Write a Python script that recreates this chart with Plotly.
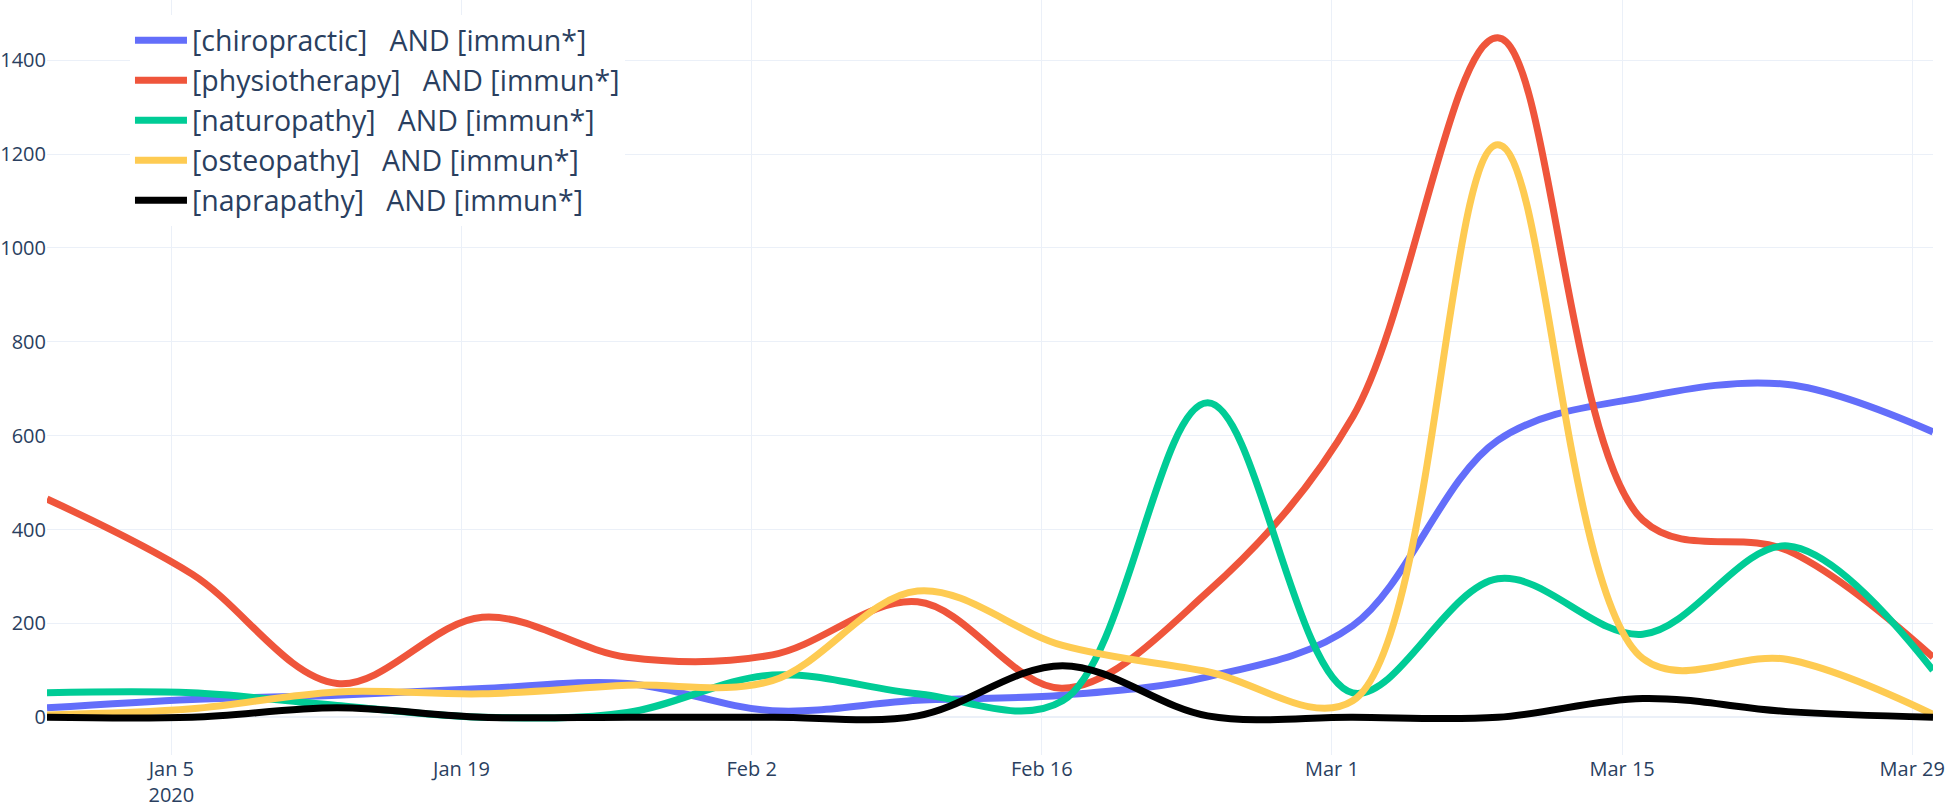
import plotly.graph_objects as go

weeks = ["2019-12-30", "2020-01-06", "2020-01-13", "2020-01-20", "2020-01-27",
         "2020-02-03", "2020-02-10", "2020-02-17", "2020-02-24", "2020-03-02",
         "2020-03-09", "2020-03-16", "2020-03-23", "2020-03-30"]

chiropractic = [20, 38, 47, 61, 72, 14, 36, 47, 86, 195, 590, 682, 709, 608]
physiotherapy = [465, 305, 72, 213, 128, 133, 246, 62, 267, 640, 1448, 420, 355, 128]
naturopathy = [52, 52, 25, 0, 10, 90, 50, 35, 670, 52, 295, 177, 365, 100]
osteopathy = [5, 18, 54, 50, 68, 78, 269, 153, 97, 35, 1220, 125, 123, 6]
naprapathy = [0, 0, 20, 0, 0, 0, 3, 110, 3, 0, 0, 40, 12, 0]

series = [
    ("[chiropractic]   AND [immun*]", chiropractic, "#636efa"),
    ("[physiotherapy]   AND [immun*]", physiotherapy, "#EF553B"),
    ("[naturopathy]   AND [immun*]", naturopathy, "#00cc96"),
    ("[osteopathy]   AND [immun*]", osteopathy, "#FECB52"),
    ("[naprapathy]   AND [immun*]", naprapathy, "black"),
]

fig = go.Figure()
for name, values, color in series:
    fig.add_trace(go.Scatter(
        x=weeks, y=values, name=name, mode="lines",
        line=dict(shape="spline", color=color, width=7),
    ))

fig.update_layout(
    template="plotly_white",
    width=1946, height=807,
    margin=dict(l=47, r=13, t=0, b=52),
    font=dict(family="Open Sans", size=20, color="#2a3f5f"),
    legend=dict(x=0.044, y=0.98, xanchor="left", yanchor="top",
                font=dict(size=28.5), itemwidth=52, bgcolor="white"),
)
fig.update_xaxes(automargin=False, dtick=14 * 86400000, tick0="2020-01-05")
fig.update_yaxes(automargin=False, dtick=200)

# drop the browser's default body margin so the figure sits at the page corner
fig.write_html("out.html",
               config={"displayModeBar": False},
               post_script="document.body.style.margin='0';document.body.style.overflow='hidden';")
